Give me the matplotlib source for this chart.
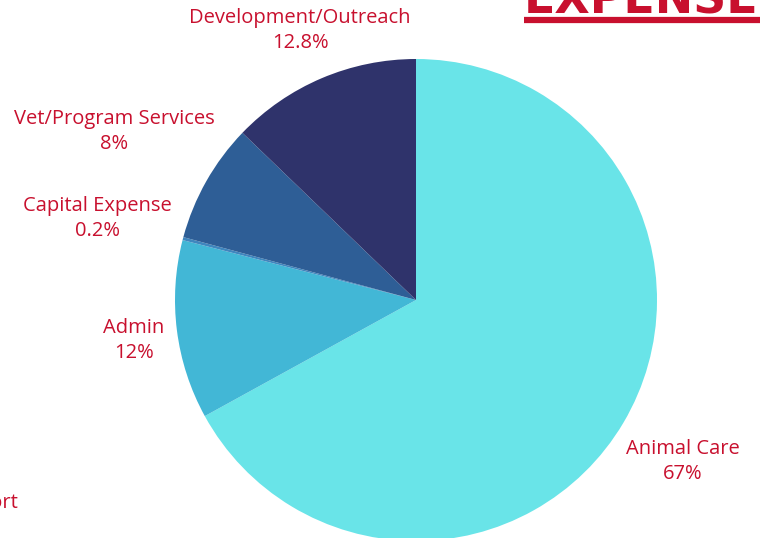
import matplotlib
matplotlib.use("Agg")
import matplotlib.pyplot as plt

# slices, clockwise from 12 o'clock
labels = ["Animal Care", "Admin", "Capital Expense", "Vet/Program Services", "Development/Outreach"]
shares = [67, 12, 0.2, 8, 12.8]
share_text = ["67%", "12%", "0.2%", "8%", "12.8%"]
colors = ["#69E4E8", "#42B7D6", "#3F86BE", "#2E5E96", "#2F336B"]

# label anchor (pixel x, pixel y of first line)
label_pos = [(683, 449), (134, 328), (97, 206), (114, 119), (300, 18)]

RED = "#C8102E"
W, H = 760, 538

fig = plt.figure(figsize=(W / 100, H / 100), dpi=100)
ax = fig.add_axes([0, 0, 1, 1])
ax.set_xlim(0, W)
ax.set_ylim(0, H)
ax.set_aspect("equal")
ax.axis("off")

ax.pie(shares, colors=colors, startangle=90, counterclock=False,
       center=(416, H - 300), radius=241,
       wedgeprops=dict(linewidth=0))
ax.set_xlim(0, W)
ax.set_ylim(0, H)

font = dict(family=["Open Sans", "DejaVu Sans"], color=RED, fontsize=14.5,
            fontweight="medium", ha="center", va="center")
for lab, pct, (x, y) in zip(labels, share_text, label_pos):
    ax.text(x, H - y, lab, **font)
    ax.text(x, H - y - 25, pct, **font)

# cut-off label at bottom left
ax.text(19, H - 503, "Support", family=["Open Sans", "DejaVu Sans"], color=RED,
        fontsize=14.5, fontweight="medium", ha="right", va="center")

# title, cut off at the top edge
ax.text(524, H - 14, "EXPENSES", family=["DejaVu Sans"], fontweight="bold",
        color=RED, fontsize=33, ha="left", va="baseline")
ax.plot([524, W], [H - 20, H - 20], color=RED, linewidth=4.5, solid_capstyle="butt")

fig.savefig("out.png", dpi=100)
